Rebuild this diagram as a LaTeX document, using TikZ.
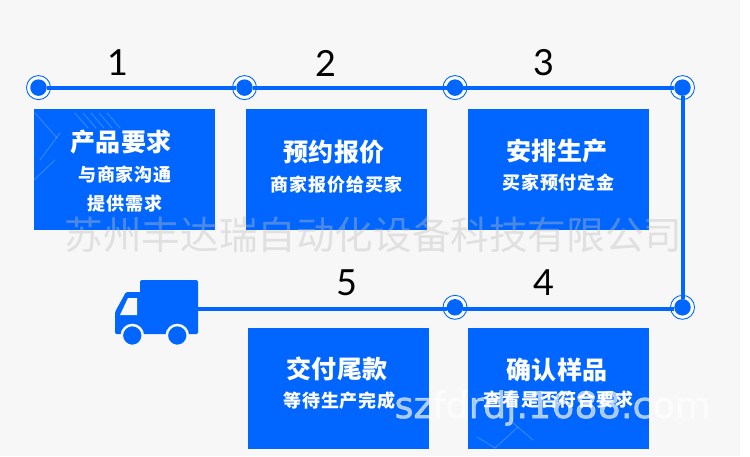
\documentclass[tikz,border=0pt]{standalone}
\usepackage{fontspec}
\usetikzlibrary{positioning}
\setmainfont{Noto Sans}
\newfontfamily\cjkhead[LetterSpace=2]{Noto Sans CJK SC}
\newfontfamily\cjksub[LetterSpace=5]{Noto Sans CJK SC}
\newfontfamily\cjkmark{Noto Sans CJK SC}
\newfontfamily\numfont{Lato}
\newfontfamily\urlfont[FakeBold=1.2]{DejaVu Sans}
\definecolor{bluefill}{HTML}{0066FF}
\definecolor{pagegray}{HTML}{F7F7F7}
\definecolor{markgray}{HTML}{BEBEBE}
\tikzset{
  stepbox/.style={fill=bluefill, minimum width=181pt, minimum height=121pt, inner sep=0pt},
  dot/.style={circle, fill=bluefill, minimum size=16.5pt, inner sep=0pt},
  ring/.style={circle, draw=bluefill, fill=white, line width=0.9pt, minimum size=24pt, inner sep=0pt},
  wheel/.style={circle, fill=bluefill, draw=pagegray, line width=2.5pt, minimum size=21pt, inner sep=0pt},
  track/.style={draw=bluefill, line width=4pt},
  stepnum/.style={font=\numfont\fontsize{36}{36}\selectfont, inner sep=0pt},
  headtext/.style={text=white, font=\cjkhead\bfseries\fontsize{25}{25}\selectfont, inner sep=0pt},
  subtext/.style={text=white, font=\cjksub\bfseries\fontsize{18}{18}\selectfont, inner sep=0pt},
  markcn/.style={text=markgray, opacity=0.4, font=\cjkmark\fontsize{38.6}{38.6}\selectfont, inner sep=0pt},
  markurl/.style={text=white, opacity=0.65, font=\urlfont\fontsize{36.5}{36.5}\selectfont, inner sep=0pt},
  marklogo/.style={draw=white, opacity=0.2, line width=1pt, line cap=round},
}
\begin{document}
\begin{tikzpicture}[x=1pt,y=-1pt]
  \useasboundingbox (0,0) rectangle (750,456);
  \fill[pagegray] (0,0) rectangle (740,456);

  % Upper row of steps
  \node (box1) [stepbox] at (124.5,169.5) {};
  \node (box2) [stepbox, right=31pt of box1] {};
  \node (box3) [stepbox, right=40.5pt of box2] {};
  % Lower row of steps
  \node (box4) [stepbox, below=98pt of box3] {};
  \node (box5) [stepbox, left=38.5pt of box4] {};

  % Faint logo marks
  \foreach \x in {75,83,91,99,107} {
    \draw[marklogo] (\x,113) -- (\x+13,128);
  }
  \draw[marklogo] (60,133) -- (40,160);
  \draw[marklogo] (35,113) -- (57,138);
  \draw[marklogo] (55,160) -- (34,180);
  \draw[marklogo] (477,437) -- (495,448) -- (518,427);
  \draw[marklogo] (513,423) -- (533,440);

  % Joints on the track
  \node (ring1) [ring] at (38.5,87.6) {};
  \node (ring2) [ring] at (244.5,87.6) {};
  \node (ring3) [ring] at (455,87.6) {};
  \node (ring4) [ring] at (682.5,87.6) {};
  \node (ring5) [ring] at (682.5,307.3) {};
  \node (ring6) [ring] at (455,307.3) {};
  \node (dot1) [dot] at (ring1) {};
  \node (dot2) [dot] at (ring2) {};
  \node (dot3) [dot] at (ring3) {};
  \node (dot4) [dot] at (ring4) {};
  \node (dot5) [dot] at (ring5) {};
  \node (dot6) [dot] at (ring6) {};

  % Truck
  \node (cargo) [fill=bluefill, rounded corners=1.5pt, minimum width=58pt, minimum height=54pt, inner sep=0pt] at (169,307) {};
  \fill[bluefill, rounded corners=1.5pt] (141,292) -- (126,292) -- (115,312) -- (115,334) -- (145,334) -- (145,292) -- cycle;
  \fill[pagegray] (137,298) -- (128,298) -- (120,315) -- (137,315) -- cycle;
  \node (wheel1) [wheel] at (132.3,335.5) {};
  \node (wheel2) [wheel] at (177.3,335.5) {};

  % Track between the joints
  \draw[track] (dot1) -- (dot2);
  \draw[track] (dot2) -- (dot3);
  \draw[track] (dot3) -- (dot4);
  \draw[track] (dot4) -- (dot5);
  \draw[track, transform canvas={yshift=-1.2pt}] (dot5) -- (dot6);
  \draw[track, transform canvas={yshift=-1.2pt}] (dot6) -- (cargo.east |- dot6);

  % Step numbers
  \node (num1) [stepnum] at (117.5,63) {1};
  \node (num2) [stepnum] at (325.5,63) {2};
  \node (num3) [stepnum] at (543.5,63) {3};
  \node (num4) [stepnum] at (543.5,283) {4};
  \node (num5) [stepnum] at (346.5,283) {5};

  % Texts in the boxes
  \node (head1) [headtext] at (121,142) {产品要求};
  \node (sub1a) [subtext] at (125,175) {与商家沟通};
  \node (sub1b) [subtext] at (125,204) {提供需求};
  \node (head2) [headtext] at (334,152) {预约报价};
  \node (sub2) [subtext] at (336.5,185) {商家报价给买家};
  \node (head3) [headtext] at (557,151) {安排生产};
  \node (sub3) [subtext] at (558.5,183) {买家预付定金};
  \node (head5) [headtext] at (337,369) {交付尾款};
  \node (sub5) [subtext] at (339.5,401) {等待生产完成};
  \node (head4) [headtext] at (557,370) {确认样品};
  \node (sub4) [subtext] at (558.5,400) {查看是否符合要求};

  % Watermarks
  \node (markname) [markcn] at (373.5,235) {苏州丰达瑞自动化设备科技有限公司};
  \node (markweb) [markurl] at (552.5,408) {szfdrdj.1688.com};
\end{tikzpicture}
\end{document}
